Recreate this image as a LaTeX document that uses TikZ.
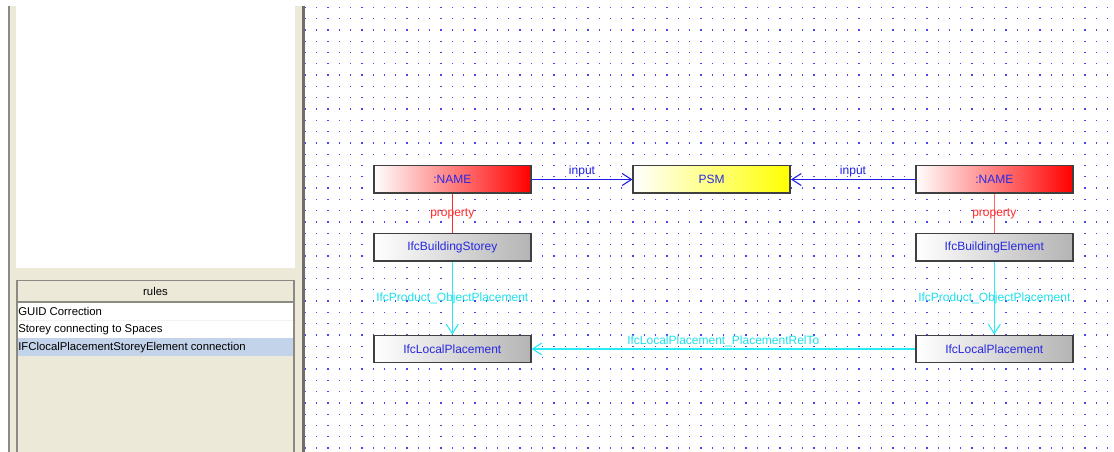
\documentclass[tikz,border=0pt]{standalone}
\usepackage{fontspec}
\setmainfont{Liberation Sans}
\usetikzlibrary{arrows.meta}
\definecolor{panelbeige}{HTML}{ECE9D8}
\definecolor{panelgray}{HTML}{8C8A82}
\definecolor{selblue}{HTML}{C3D3EA}
\definecolor{nodetext}{RGB}{40,40,225}
\definecolor{edgeblue}{RGB}{30,30,230}
\definecolor{edgered}{RGB}{255,40,40}
\definecolor{edgecyan}{RGB}{40,235,245}
\definecolor{labcyan}{RGB}{30,225,235}
\definecolor{dotblue}{RGB}{70,70,240}
\definecolor{nodeborder}{HTML}{404040}
\definecolor{lightgray}{HTML}{B4B4B4}
\tikzset{
  box/.style={rectangle, draw=nodeborder, line width=1.1pt, minimum width=117.75pt,
    minimum height=20.6pt, inner sep=0pt, text=nodetext, font=\fontsize{9}{10}\selectfont},
  namebox/.style={box, left color=white, right color=red},
  psmbox/.style={box, left color=white, right color={rgb,255:red,255;green,255;blue,0}},
  ifcbox/.style={box, left color=white, right color=lightgray},
  opentip/.style={-{Straight Barb[length=7pt,width=9pt,line width=0.8pt]}},
  inputedge/.style={draw=edgeblue, line width=1.1pt, opentip},
  propedge/.style={draw=edgered, line width=1.1pt},
  placeedge/.style={draw=edgecyan, line width=1.1pt, opentip},
  elab/.style={font=\fontsize{9}{10}\selectfont, inner sep=1pt},
  rowtext/.style={font=\fontsize{8.5}{10}\selectfont, anchor=west, inner sep=0pt, text=black},
}
\begin{document}
\begin{tikzpicture}[x=0.75pt,y=-0.75pt]
\useasboundingbox (0,0) rectangle (1114,452);
\fill[white] (0,0) rectangle (1114,452);
% left panel
\fill[panelbeige] (10,6) rectangle (302,452);
\fill[panelgray] (8,6) rectangle (10,452);
\fill[white] (16,6) rectangle (295,268);
\fill[panelgray!80!black] (302,6) rectangle (305,452);
% rules table
\fill[white] (17,302) rectangle (294,338);
\fill[selblue] (17,338) rectangle (294,356);
\draw[white!90!gray, line width=0.6pt] (17,320) -- (294,320);
\draw[panelgray, line width=1pt] (17,452) -- (17,280.5) -- (294,280.5) -- (294,452);
\draw[panelgray, line width=1pt] (17,302) -- (294,302);
\node[font=\fontsize{8.5}{10}\selectfont] (rulesh) at (155.5,291.5) {rules};
\node[rowtext] (r1) at (18,311.5) {GUID Correction};
\node[rowtext] (r2) at (18,329.5) {Storey connecting to Spaces};
\node[rowtext] (r3) at (18,347.5) {IFClocalPlacementStoreyElement connection};
% dot grid
\foreach \i in {0,...,71}{
  \foreach \j in {0,...,39}{
    \fill[dotblue] ({305.3+11.3*\i-0.6},{7.3+11.3*\j-0.6}) rectangle ++(1.3,1.3);
  }
}
% nodes
\node[namebox] (n1) at (452.3,179.5) {:NAME};
\node[psmbox] (psm) at (711.7,179.5) {PSM};
\node[namebox] (n2) at (994.3,179.5) {:NAME};
\node[ifcbox] (storey) at (452.3,247.5) {IfcBuildingStorey};
\node[ifcbox] (elem) at (994.3,247.5) {IfcBuildingElement};
\node[ifcbox] (lp1) at (452.3,349) {IfcLocalPlacement};
\node[ifcbox] (lp2) at (994.3,349) {IfcLocalPlacement};
% connectors
\draw[inputedge] (n1.east) -- node[elab, above, text=edgeblue] {input} (psm.west);
\draw[inputedge] (n2.west) -- node[elab, above, text=edgeblue] {input} (psm.east);
\draw[propedge] (n1.south) -- node[elab, text=edgered] {property} (storey.north);
\draw[propedge, draw=edgered!70!white] (n2.south) -- node[elab, text=edgered] {property} (elem.north);
\draw[placeedge] (storey.south) -- node[elab, text=labcyan] {IfcProduct\_ObjectPlacement} (lp1.north);
\draw[placeedge] (elem.south) -- node[elab, text=labcyan] {IfcProduct\_ObjectPlacement} (lp2.north);
\draw[placeedge] (lp2.west) -- node[elab, above, text=labcyan] {IfcLocalPlacement\_PlacementRelTo} (lp1.east);
\end{tikzpicture}
\end{document}
